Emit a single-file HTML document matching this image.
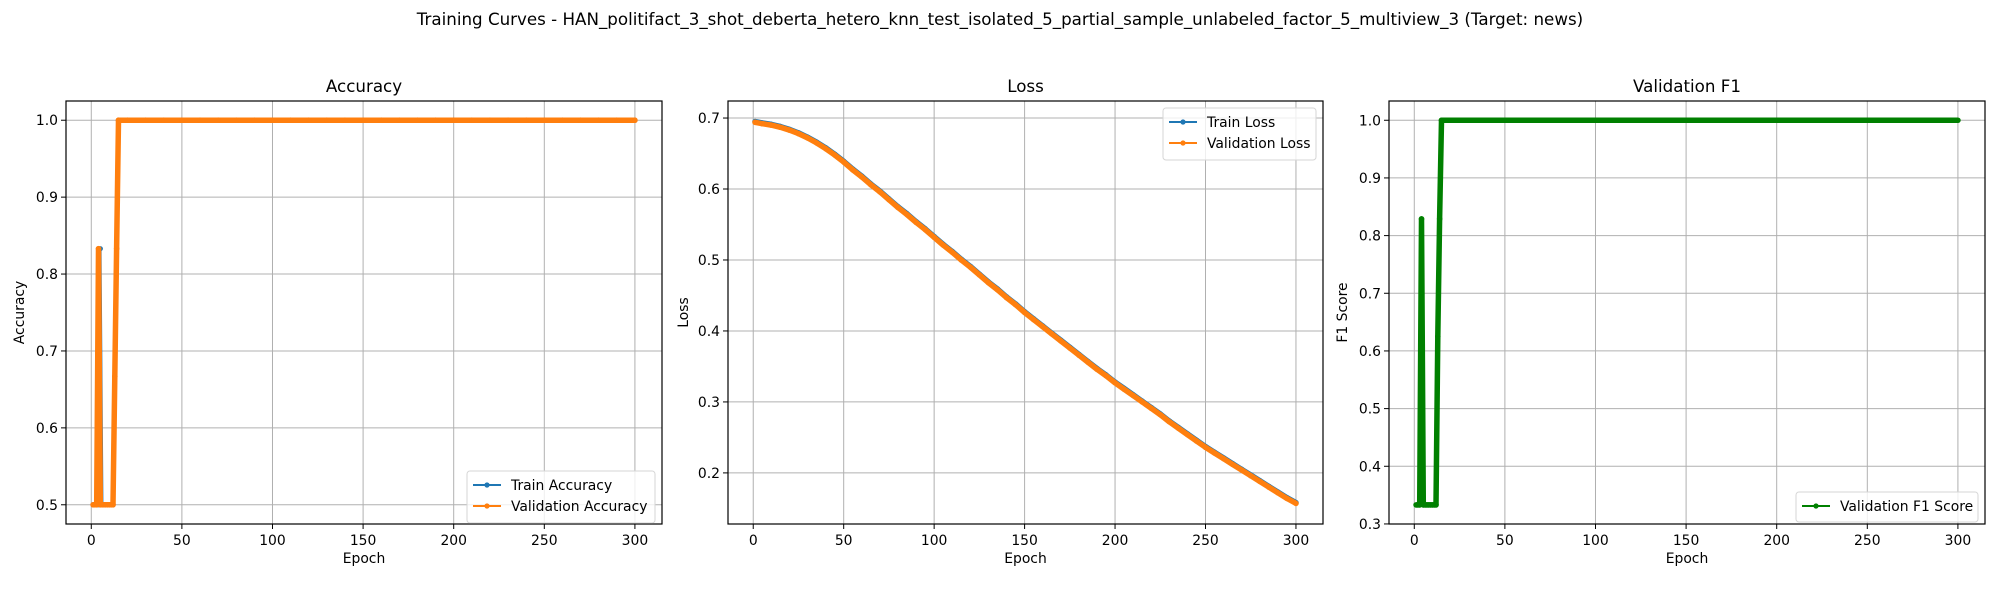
<!DOCTYPE html>
<html><head><meta charset="utf-8"><style>
body{margin:0;background:#fff;}
svg{display:block;font-family:"DejaVu Sans","Liberation Sans",sans-serif;}
</style></head><body>
<svg id="fig" width="2000" height="600" viewBox="0 0 2000 600">
<text x="1000" y="25" text-anchor="middle" font-size="16.7">Training Curves - HAN_politifact_3_shot_deberta_hetero_knn_test_isolated_5_partial_sample_unlabeled_factor_5_multiview_3 (Target: news)</text>
</svg>
<script>
// ---- data ----
const accEpochs = [1,2,3,4,5,6,7,8,9,10,11,12,13,14,15,20,30,40,50,60,70,80,90,100,110,120,130,140,150,160,170,180,190,200,210,220,230,240,250,260,270,280,290,300];
const trainAcc = [0.5,0.5,0.5,0.5,0.833,0.5,0.5,0.5,0.5,0.5,0.5,0.5,0.667,0.833,1,1,1,1,1,1,1,1,1,1,1,1,1,1,1,1,1,1,1,1,1,1,1,1,1,1,1,1,1,1];
const valAcc   = [0.5,0.5,0.5,0.833,0.5,0.5,0.5,0.5,0.5,0.5,0.5,0.5,0.667,0.833,1,1,1,1,1,1,1,1,1,1,1,1,1,1,1,1,1,1,1,1,1,1,1,1,1,1,1,1,1,1];
const lossEpochs = [1,5,10,15,20,25,30,35,40,45,50,55,60,65,70,75,80,85,90,95,100,105,110,115,120,125,130,135,140,145,150,155,160,165,170,175,180,185,190,195,200,205,210,215,220,225,230,235,240,245,250,255,260,265,270,275,280,285,290,295,300];
const valLoss = [0.694,0.692,0.690,0.687,0.683,0.678,0.672,0.665,0.657,0.648,0.638,0.627,0.617,0.606,0.596,0.585,0.574,0.564,0.553,0.543,0.532,0.521,0.511,0.500,0.490,0.479,0.468,0.458,0.447,0.437,0.426,0.416,0.406,0.396,0.386,0.376,0.366,0.356,0.346,0.337,0.327,0.318,0.309,0.300,0.291,0.282,0.272,0.263,0.254,0.245,0.236,0.228,0.220,0.212,0.204,0.196,0.188,0.180,0.172,0.164,0.157];
const trainLoss = [0.695,0.693,0.691,0.688,0.684,0.679,0.673,0.666,0.658,0.649,0.639,0.628,0.618,0.607,0.597,0.586,0.575,0.565,0.554,0.544,0.533,0.522,0.512,0.501,0.491,0.480,0.469,0.459,0.448,0.438,0.427,0.417,0.407,0.397,0.387,0.377,0.367,0.357,0.347,0.338,0.328,0.319,0.310,0.301,0.292,0.283,0.273,0.264,0.255,0.246,0.237,0.229,0.221,0.213,0.205,0.197,0.189,0.181,0.173,0.165,0.158];
const f1Epochs = [1,2,3,4,5,6,7,8,9,10,11,12,13,14,15,20,30,40,50,60,70,80,90,100,110,120,130,140,150,160,170,180,190,200,210,220,230,240,250,260,270,280,290,300];
const valF1 = [0.333,0.333,0.333,0.829,0.333,0.333,0.333,0.333,0.333,0.333,0.333,0.333,0.625,0.829,1,1,1,1,1,1,1,1,1,1,1,1,1,1,1,1,1,1,1,1,1,1,1,1,1,1,1,1,1,1];
const xTicks = [0,50,100,150,200,250,300];
const accTicks = [0.5,0.6,0.7,0.8,0.9,1.0];
const lossTicks = [0.2,0.3,0.4,0.5,0.6,0.7];
const f1Ticks = [0.3,0.4,0.5,0.6,0.7,0.8,0.9,1.0];

const NS='http://www.w3.org/2000/svg';
const svg=document.getElementById('fig');
function mk(tag,attrs,parent){const e=document.createElementNS(NS,tag);for(const k in attrs)e.setAttribute(k,attrs[k]);(parent||svg).appendChild(e);return e;}

function panel(o){
  const g=mk('g',{});
  
  
  const L=o.L,R=o.R,T=101,B=524;
  const xs=v=>L+(v-o.xmin)/(o.xmax-o.xmin)*(R-L);
  const ys=v=>B-(v-o.ymin)/(o.ymax-o.ymin)*(B-T);
  xTicks.forEach(t=>{
    const x=xs(t);
    const gl=mk('line',{x1:x,x2:x,y1:T,y2:B,stroke:'#b0b0b0','stroke-width':1},g);
    
    
    mk('line',{x1:x,x2:x,y1:B,y2:B+5,stroke:'#000','stroke-width':1},g);
    const tx=mk('text',{x:x,y:B+21,'text-anchor':'middle','font-size':13.9},g);
    tx.textContent=t;
    
    
  });
  o.yt.forEach(t=>{
    const y=ys(t);
    const gl=mk('line',{x1:L,x2:R,y1:y,y2:y,stroke:'#b0b0b0','stroke-width':1},g);
    
    
    mk('line',{x1:L-5,x2:L,y1:y,y2:y,stroke:'#000','stroke-width':1},g);
    const tx=mk('text',{x:L-8,y:y+5,'text-anchor':'end','font-size':13.9},g);
    tx.textContent=t.toFixed(1);
    
    
  });
  o.series.forEach(s=>{
    const pts=s.x.map((e,i)=>xs(e).toFixed(1)+','+ys(s.y[i]).toFixed(1)).join(' ');
    const pl=mk('polyline',{points:pts,fill:'none',stroke:s.color,'stroke-width':s.w||2,'stroke-linejoin':'round'},g);
    
    
    s.x.forEach((e,i)=>{
      const c=mk('circle',{cx:xs(e),cy:ys(s.y[i]),r:s.r||2.6,fill:s.color},g);
      
      
    });
  });
  const fr=mk('rect',{x:L,y:T,width:R-L,height:B-T,fill:'none',stroke:'#000','stroke-width':1.2},g);
  
  
  const ti=mk('text',{x:(L+R)/2,y:92,'text-anchor':'middle','font-size':16.7},g);
  ti.textContent=o.title;
  
  
  const xl=mk('text',{x:(L+R)/2,y:563,'text-anchor':'middle','font-size':13.9},g);
  xl.textContent='Epoch';
  
  
  const yl=mk('text',{x:0,y:0,'text-anchor':'middle','font-size':13.9,transform:`translate(${o.ylx},${(T+B)/2}) rotate(-90)`},g);
  yl.textContent=o.ylabel;
  
  
  const lg=mk('g',{},g);
  
  
  const lgw=o.leg.w, lgh=8+o.series.length*22;
  mk('rect',{x:o.leg.x,y:o.leg.y,width:lgw,height:lgh,rx:3,fill:'#fff','fill-opacity':0.8,stroke:'#d6d6d6'},lg);
  o.series.forEach((s,i)=>{
    const yy=o.leg.y+14+i*21;
    const ent=mk('g',{},lg);
    
    
    mk('line',{x1:o.leg.x+6,x2:o.leg.x+34,y1:yy,y2:yy,stroke:s.color,'stroke-width':2},ent);
    mk('circle',{cx:o.leg.x+20,cy:yy,r:2.6,fill:s.color},ent);
    const t=mk('text',{x:o.leg.x+44,y:yy+5,'font-size':13.9},ent);
    t.textContent=s.label;
  });
}

panel({name:'accuracy',title:'Accuracy',ylabel:'Accuracy',L:66,R:662,xmin:-13.95,xmax:314.95,ymin:0.475,ymax:1.025,yt:accTicks,ylx:24,
  leg:{x:467,y:471,w:188},
  series:[{id:'train-accuracy',label:'Train Accuracy',color:'#1f77b4',x:accEpochs,y:trainAcc,w:2.5},
          {id:'validation-accuracy',label:'Validation Accuracy',color:'#ff7f0e',x:accEpochs,y:valAcc,w:5.5,r:2.8}]});
panel({name:'loss',title:'Loss',ylabel:'Loss',L:728,R:1323,xmin:-13.95,xmax:314.95,ymin:0.128,ymax:0.724,yt:lossTicks,ylx:688,
  leg:{x:1163,y:108,w:153},
  series:[{id:'train-loss',label:'Train Loss',color:'#1f77b4',x:lossEpochs,y:trainLoss,w:5.5,r:2.8},
          {id:'validation-loss',label:'Validation Loss',color:'#ff7f0e',x:lossEpochs,y:valLoss,w:5.5,r:2.8}]});
panel({name:'f1',title:'Validation F1',ylabel:'F1 Score',L:1389,R:1985,xmin:-13.95,xmax:314.95,ymin:0.2999,ymax:1.0334,yt:f1Ticks,ylx:1347,
  leg:{x:1796,y:492,w:182},
  series:[{id:'validation-f1',label:'Validation F1 Score',color:'#008000',x:f1Epochs,y:valF1,w:5.5,r:2.8}]});
</script>
</body></html>
